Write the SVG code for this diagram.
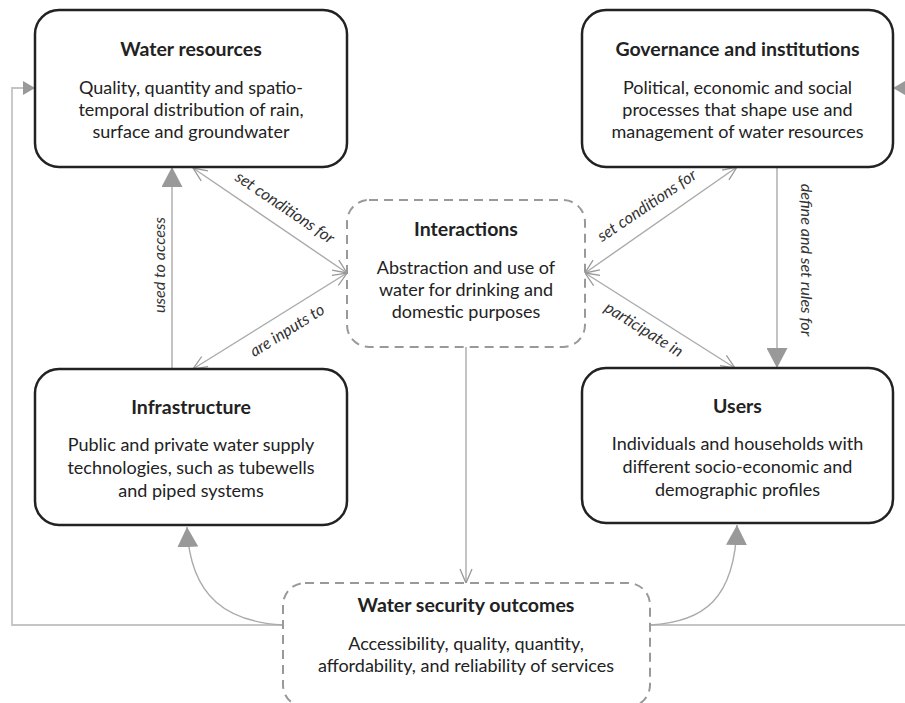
<svg xmlns="http://www.w3.org/2000/svg" width="905" height="703" viewBox="0 0 905 703">
<style>
.node{fill:#fff;stroke:#222;stroke-width:2.5}
.dnode{fill:#fff;stroke:#999;stroke-width:2;stroke-dasharray:9 6}
.t{font-family:Lato,"Open Sans",sans-serif;font-size:18px;fill:#222;text-anchor:middle}
.h{font-weight:bold;font-size:19.5px}
.lbl{font-family:Lato,"Open Sans",sans-serif;font-style:italic;font-size:16.2px;fill:#333;text-anchor:middle}
.c{fill:none;stroke:#aaa;stroke-width:1.4}
.cl{fill:none;stroke:#c4c4c4;stroke-width:1.8}
</style>
<defs>
<marker id="fa" markerUnits="userSpaceOnUse" viewBox="0 0 20 21" refX="20" refY="10.5" markerWidth="20" markerHeight="21" orient="auto"><path d="M0,0 L20,10.5 L0,21 z" fill="#999"/></marker>
<marker id="fs" markerUnits="userSpaceOnUse" viewBox="0 0 12 14" refX="12" refY="7" markerWidth="12" markerHeight="14" orient="auto"><path d="M0,0 L12,7 L0,14 z" fill="#999"/></marker>
<marker id="oa" markerUnits="userSpaceOnUse" viewBox="-1 -1 16 14" refX="14" refY="6" markerWidth="16" markerHeight="14" orient="auto-start-reverse" overflow="visible"><path d="M0,0 L14,6 L0,12" fill="none" stroke="#999" stroke-width="1.3"/></marker>
</defs>

<g id="connectors">
<path class="cl" d="M283,625 H12 V88 H35" marker-end="url(#fs)"/>
<path class="cl" d="M650,625 H912 V88 H893" marker-end="url(#fs)"/>
<path class="c" d="M172,369 V167" marker-end="url(#fa)"/>
<path class="c" d="M193,168 L347,273" marker-start="url(#oa)" marker-end="url(#oa)"/>
<path class="c" d="M193,369 L347,273" marker-start="url(#oa)" marker-end="url(#oa)"/>
<path class="c" d="M737,167 L585,273" marker-start="url(#oa)" marker-end="url(#oa)"/>
<path class="c" d="M735,368 L585,273" marker-start="url(#oa)" marker-end="url(#oa)"/>
<path class="c" d="M777,167 V368" marker-end="url(#fa)"/>
<path class="c" d="M466,347 V583" marker-end="url(#oa)"/>
<path class="c" d="M283,625 C230,622 190,600 187,527" marker-end="url(#fa)"/>
<path class="c" d="M650,625 C703,622 735,600 737,525" marker-end="url(#fa)"/>
<text class="lbl" transform="translate(165,265) rotate(-90)">used to access</text>
<text class="lbl" transform="translate(282,212) rotate(34)">set conditions for</text>
<text class="lbl" transform="translate(290,335) rotate(-32)">are inputs to</text>
<text class="lbl" transform="translate(650,210) rotate(-34)">set conditions for</text>
<text class="lbl" transform="translate(641,334) rotate(32)">participate in</text>
<text class="lbl" transform="translate(801,260) rotate(90)">define and set rules for</text>
</g>

<g id="water-resources">
<rect class="node" x="35" y="10" width="312" height="157" rx="24"/>
<text class="t h" x="191" y="56">Water resources</text>
<text class="t" x="191" y="94">Quality, quantity and spatio-</text>
<text class="t" x="191" y="116">temporal distribution of rain,</text>
<text class="t" x="191" y="138">surface and groundwater</text>
</g>

<g id="governance">
<rect class="node" x="582" y="10" width="311" height="157" rx="24"/>
<text class="t h" x="737.5" y="56">Governance and institutions</text>
<text class="t" x="737.5" y="94">Political, economic and social</text>
<text class="t" x="737.5" y="116">processes that shape use and</text>
<text class="t" x="737.5" y="138">management of water resources</text>
</g>

<g id="interactions">
<rect class="dnode" x="347" y="200" width="238" height="147" rx="22"/>
<text class="t h" x="466" y="236">Interactions</text>
<text class="t" x="466" y="274">Abstraction and use of</text>
<text class="t" x="466" y="296">water for drinking and</text>
<text class="t" x="466" y="318">domestic purposes</text>
</g>

<g id="infrastructure">
<rect class="node" x="35" y="369" width="312" height="156" rx="24"/>
<text class="t h" x="191" y="414">Infrastructure</text>
<text class="t" x="191" y="451">Public and private water supply</text>
<text class="t" x="191" y="474">technologies, such as tubewells</text>
<text class="t" x="191" y="497">and piped systems</text>
</g>

<g id="users">
<rect class="node" x="582" y="368" width="311" height="155" rx="24"/>
<text class="t h" x="737.5" y="413">Users</text>
<text class="t" x="737.5" y="450">Individuals and households with</text>
<text class="t" x="737.5" y="473">different socio-economic and</text>
<text class="t" x="737.5" y="496">demographic profiles</text>
</g>

<g id="water-security-outcomes">
<rect class="dnode" x="283" y="583" width="367" height="124" rx="22"/>
<text class="t h" x="466" y="612">Water security outcomes</text>
<text class="t" x="466" y="650">Accessibility, quality, quantity,</text>
<text class="t" x="466" y="672">affordability, and reliability of services</text>
</g>
</svg>
